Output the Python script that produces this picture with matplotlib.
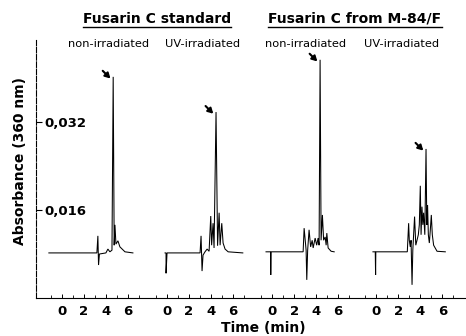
import matplotlib
matplotlib.use("Agg")
import matplotlib.pyplot as plt
from matplotlib.lines import Line2D

# ---- data (time in min, absorbance) ----
panel_offsets = [0.0, 9.55, 19.09, 28.55]
time_ticks = [0, 2, 4, 6]
y_ticks = [0.016, 0.032]
y_tick_labels = ["0,016", "0,032"]
group_titles = ["Fusarin C standard", "Fusarin C from M-84/F"]
panel_titles = ["non-irradiated", "UV-irradiated", "non-irradiated", "UV-irradiated"]

p1_t = [-1.18, 3.18, 3.27, 3.33, 3.41, 4.0, 4.18, 4.36, 4.55, 4.66, 4.75, 4.82, 4.91, 5.09, 5.27, 5.73, 6.45]
p1_v = [0.0082, 0.0082, 0.0113, 0.0060, 0.0080, 0.0082, 0.0089, 0.0084, 0.0087, 0.0402, 0.0096, 0.0133, 0.0098, 0.0104, 0.0093, 0.0084, 0.0082]

p2_t = [-0.18, -0.09, -0.09, 0.0, 3.0, 3.09, 3.18, 3.27, 3.45, 3.64, 3.82, 3.97, 4.05, 4.18, 4.27, 4.45, 4.59, 4.73, 4.82, 4.97, 5.09, 5.27, 5.55, 6.88]
p2_v = [0.0082, 0.0082, 0.0045, 0.0082, 0.0082, 0.0113, 0.0049, 0.0078, 0.0084, 0.0089, 0.0085, 0.0149, 0.0096, 0.0136, 0.0091, 0.0338, 0.0095, 0.0155, 0.0096, 0.0136, 0.0100, 0.0089, 0.0084, 0.0082]

p3_t = [-0.55, -0.14, -0.12, -0.09, 2.82, 2.91, 3.09, 3.15, 3.23, 3.36, 3.5, 3.64, 3.73, 3.91, 4.05, 4.18, 4.27, 4.36, 4.45, 4.57, 4.68, 4.82, 4.91, 4.97, 5.09, 5.36, 5.64]
p3_v = [0.0084, 0.0084, 0.0042, 0.0084, 0.0084, 0.0127, 0.0087, 0.0033, 0.0087, 0.0124, 0.0093, 0.0105, 0.0091, 0.0109, 0.0096, 0.0109, 0.0096, 0.0433, 0.0105, 0.0151, 0.0105, 0.0111, 0.0096, 0.0118, 0.0091, 0.0085, 0.0084]

p4_t = [-0.3, -0.09, -0.06, -0.04, 2.82, 2.94, 3.0, 3.09, 3.16, 3.25, 3.32, 3.48, 3.59, 3.7, 3.82, 3.91, 4.0, 4.07, 4.15, 4.23, 4.3, 4.41, 4.52, 4.59, 4.66, 4.73, 4.82, 4.91, 5.0, 5.09, 5.21, 5.52, 6.27]
p4_v = [0.0084, 0.0084, 0.0042, 0.0084, 0.0084, 0.0136, 0.0105, 0.0093, 0.0105, 0.0024, 0.0087, 0.0148, 0.0096, 0.0105, 0.0115, 0.0133, 0.0204, 0.0115, 0.0166, 0.0133, 0.0155, 0.0115, 0.0271, 0.0133, 0.0169, 0.0115, 0.0100, 0.0124, 0.0151, 0.0115, 0.0096, 0.0085, 0.0084]

traces = [(p1_t, p1_v), (p2_t, p2_v), (p3_t, p3_v), (p4_t, p4_v)]

# ---- figure ----
fig = plt.figure(figsize=(4.66, 3.36), dpi=100)
ax = fig.add_axes([0.077, 0.113, 0.923, 0.768])
ax.set_xlim(-2.36, 36.7)
ax.set_ylim(0, 0.0469)

for off, (t, v) in zip(panel_offsets, traces):
    ax.plot([off + ti for ti in t], v, color="black", lw=0.75, solid_joinstyle="miter")
    i = max(range(len(v)), key=lambda k: v[k])
    px, py = off + t[i], v[i]
    ax.annotate("", xy=(px - 0.25, py - 0.0003), xytext=(px - 0.95, py + 0.0011),
                arrowprops=dict(arrowstyle="-|>,head_length=0.3,head_width=0.17",
                                color="black", lw=1.5, shrinkA=0, shrinkB=0))

# axes styling
for s in ["top", "right"]:
    ax.spines[s].set_visible(False)
ax.spines["left"].set_linewidth(0.8)
ax.spines["left"].set_linestyle((0, (5, 1.5)))
ax.spines["bottom"].set_linewidth(0.8)

major = [off + m for off in panel_offsets for m in time_ticks]
ax.set_xticks(major)
ax.set_xticklabels([str(m) for off in panel_offsets for m in time_ticks])
ax.set_xticks([off + m for off in panel_offsets for m in [-1, 1, 3, 5, 7]], minor=True)
ax.tick_params(axis="x", which="major", direction="in", length=3, width=0.7, pad=5)
ax.tick_params(axis="x", which="minor", direction="in", length=2, width=0.6)
for lbl in ax.get_xticklabels():
    lbl.set_fontsize(9.5)
    lbl.set_fontweight("bold")

ax.set_yticks(y_ticks)
ax.set_yticklabels(y_tick_labels)
ax.tick_params(axis="y", direction="in", length=4, width=0.8, pad=-6)
for lbl in ax.get_yticklabels():
    lbl.set_ha("left")
    lbl.set_fontsize(9.5)
    lbl.set_fontweight("bold")

fig.text(0.043, 0.52, "Absorbance (360 nm)", rotation=90, ha="center", va="center",
         fontsize=10, fontweight="bold")
fig.text(0.566, 0.025, "Time (min)", ha="center", va="center", fontsize=10, fontweight="bold")

# titles
title_x = [157 / 466, 355 / 466]
title_objs = []
for tx, tt in zip(title_x, group_titles):
    title_objs.append(fig.text(tx, 1 - 19 / 336, tt, ha="center", va="center",
                               fontsize=10, fontweight="bold"))
sub_x = [109 / 466, 203 / 466, 306 / 466, 402 / 466]
for sx, st in zip(sub_x, panel_titles):
    fig.text(sx, 1 - 44 / 336, st, ha="center", va="center", fontsize=8.2)

fig.canvas.draw()
r = fig.canvas.get_renderer()
for t in title_objs:
    bb = t.get_window_extent(r).transformed(fig.transFigure.inverted())
    fig.add_artist(Line2D([bb.x0, bb.x1], [bb.y0 - 0.004, bb.y0 - 0.004],
                          color="black", lw=1.0, transform=fig.transFigure))

fig.savefig("out.png", dpi=100)
